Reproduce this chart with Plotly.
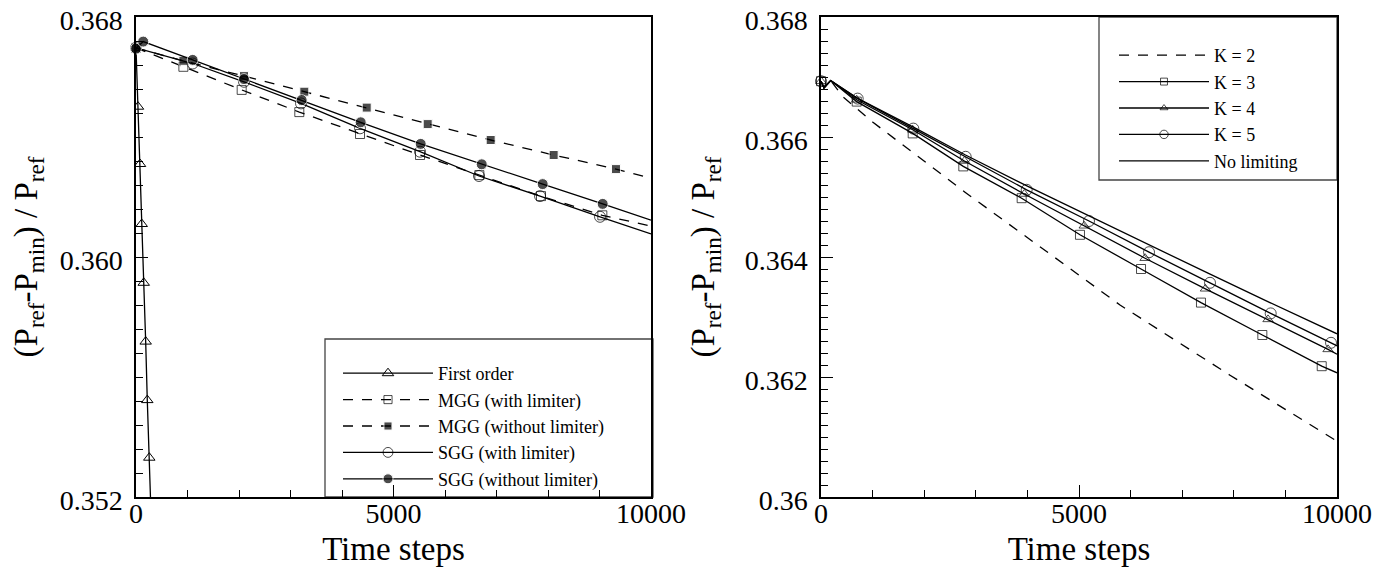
import plotly.graph_objects as go

# ---------------- Left panel data ----------------
first_t = [0, 39, 78, 111, 150, 188, 219, 258, 296]
first_v = [0.36697, 0.36501, 0.36310, 0.36110, 0.35914, 0.35718, 0.35523, 0.35331, 0.35120]

mgg_lim_t = [0, 920, 2052, 3171, 4350, 5515, 6667, 7864, 9055, 10000]
mgg_lim_v = [0.36697, 0.36634, 0.36557, 0.36483, 0.36410, 0.36340, 0.36273, 0.36203, 0.36139, 0.36103]

mgg_nolim_t = [0, 920, 2097, 3268, 4480, 5664, 6887, 8110, 9320, 10000]
mgg_nolim_v = [0.36697, 0.36654, 0.36603, 0.36551, 0.36498, 0.36443, 0.36390, 0.36340, 0.36293, 0.36263]

sgg_lim_t = [0, 1100, 2097, 3204, 4350, 5515, 6660, 7845, 9010, 10000]
sgg_lim_v = [0.36697, 0.36645, 0.36584, 0.36512, 0.36429, 0.36351, 0.36270, 0.36203, 0.36134, 0.36077]

sgg_nolim_t = [0, 140, 1100, 2097, 3217, 4363, 5528, 6713, 7897, 9062, 10000]
sgg_nolim_v = [0.36695, 0.36718, 0.36657, 0.36593, 0.36523, 0.36449, 0.36377, 0.36309, 0.36243, 0.36177, 0.36123]

left_names = ["First order", "MGG (with limiter)", "MGG (without limiter)",
              "SGG (with limiter)", "SGG (without limiter)"]

# ---------------- Right panel data ----------------
k2_t = [0, 58, 188, 427, 1000, 2791, 5795, 7926, 10000]
k2_v = [0.36693, 0.36682, 0.36694, 0.36667, 0.36625, 0.36508, 0.36320, 0.36203, 0.36093]

k3_t = [0, 58, 188, 692, 1777, 2758, 3889, 5019, 6202, 7364, 8553, 9704, 10000]
k3_v = [0.36693, 0.36682, 0.36694, 0.36659, 0.36606, 0.36551, 0.36498, 0.36437, 0.36380, 0.36324, 0.36270, 0.36218, 0.36207]

k4_t = [0, 58, 188, 692, 1777, 2780, 3940, 5100, 6280, 7450, 8663, 9826, 10000]
k4_v = [0.36693, 0.36682, 0.36694, 0.36662, 0.36612, 0.36560, 0.36505, 0.36452, 0.36398, 0.36347, 0.36296, 0.36246, 0.36238]

k5_t = [0, 58, 188, 711, 1789, 2804, 3986, 5194, 6357, 7539, 8715, 9884, 10000]
k5_v = [0.36693, 0.36682, 0.36694, 0.36664, 0.36614, 0.36567, 0.36512, 0.36460, 0.36408, 0.36357, 0.36306, 0.36257, 0.36252]

nolim_t = [0, 58, 188, 700, 1800, 2800, 4000, 5200, 6400, 7500, 8700, 10000]
nolim_v = [0.36693, 0.36682, 0.36694, 0.36665, 0.36616, 0.36570, 0.36518, 0.36468, 0.36418, 0.36373, 0.36324, 0.36272]

right_names = ["K = 2", "K = 3", "K = 4", "K = 5", "No limiting"]

left_yticks = [0.352, 0.360, 0.368]
left_yticktext = ["0.352", "0.360", "0.368"]
right_yticks = [0.360, 0.362, 0.364, 0.366, 0.368]
right_yticktext = ["0.36", "0.362", "0.364", "0.366", "0.368"]
xticks = [0, 5000, 10000]
xticktext = ["0", "5000", "10000"]

FONT = "Liberation Serif, Times New Roman, serif"
BLACK = "black"
DASH = "10px,9px"


def sizes(n, s, hide_last=True, hide_idx=()):
    out = [s] * n
    if hide_last:
        out[-1] = 0
    for i in hide_idx:
        out[i] = 0
    return out


fig = go.Figure()

# Left panel traces
fig.add_trace(go.Scatter(
    x=first_t, y=first_v, name=left_names[0], mode="lines+markers",
    line=dict(color=BLACK, width=1.3),
    marker=dict(symbol="triangle-up-open", size=10, color=BLACK, line=dict(width=1)),
    xaxis="x", yaxis="y", legend="legend"))
fig.add_trace(go.Scatter(
    x=mgg_lim_t, y=mgg_lim_v, name=left_names[1], mode="lines+markers",
    line=dict(color=BLACK, width=1.3, dash=DASH),
    marker=dict(symbol="square-open", size=sizes(len(mgg_lim_t), 9), color=BLACK, line=dict(width=1)),
    xaxis="x", yaxis="y", legend="legend", cliponaxis=False))
fig.add_trace(go.Scatter(
    x=mgg_nolim_t, y=mgg_nolim_v, name=left_names[2], mode="lines+markers",
    line=dict(color=BLACK, width=1.3, dash=DASH),
    marker=dict(symbol="square", size=sizes(len(mgg_nolim_t), 9), color=BLACK),
    xaxis="x", yaxis="y", legend="legend", cliponaxis=False))
fig.add_trace(go.Scatter(
    x=sgg_lim_t, y=sgg_lim_v, name=left_names[3], mode="lines+markers",
    line=dict(color=BLACK, width=1.3),
    marker=dict(symbol="circle-open", size=sizes(len(sgg_lim_t), 11), color=BLACK, line=dict(width=1)),
    xaxis="x", yaxis="y", legend="legend", cliponaxis=False))
fig.add_trace(go.Scatter(
    x=sgg_nolim_t, y=sgg_nolim_v, name=left_names[4], mode="lines+markers",
    line=dict(color=BLACK, width=1.3),
    marker=dict(symbol="circle", size=sizes(len(sgg_nolim_t), 11), color=BLACK),
    xaxis="x", yaxis="y", legend="legend", cliponaxis=False))

# Right panel traces
fig.add_trace(go.Scatter(
    x=k2_t, y=k2_v, name=right_names[0], mode="lines",
    line=dict(color=BLACK, width=1.3, dash=DASH),
    xaxis="x2", yaxis="y2", legend="legend2"))
fig.add_trace(go.Scatter(
    x=k3_t, y=k3_v, name=right_names[1], mode="lines+markers",
    line=dict(color=BLACK, width=1.3),
    marker=dict(symbol="square-open", size=sizes(len(k3_t), 9, hide_idx=(1, 2)), color=BLACK, line=dict(width=1)),
    xaxis="x2", yaxis="y2", legend="legend2", cliponaxis=False))
fig.add_trace(go.Scatter(
    x=k4_t, y=k4_v, name=right_names[2], mode="lines+markers",
    line=dict(color=BLACK, width=1.3),
    marker=dict(symbol="triangle-up-open", size=sizes(len(k4_t), 9, hide_idx=(1, 2)), color=BLACK, line=dict(width=1)),
    xaxis="x2", yaxis="y2", legend="legend2", cliponaxis=False))
fig.add_trace(go.Scatter(
    x=k5_t, y=k5_v, name=right_names[3], mode="lines+markers",
    line=dict(color=BLACK, width=1.3),
    marker=dict(symbol="circle-open", size=sizes(len(k5_t), 11, hide_idx=(1, 2)), color=BLACK, line=dict(width=1)),
    xaxis="x2", yaxis="y2", legend="legend2", cliponaxis=False))
fig.add_trace(go.Scatter(
    x=nolim_t, y=nolim_v, name=right_names[4], mode="lines",
    line=dict(color=BLACK, width=1.3),
    xaxis="x2", yaxis="y2", legend="legend2"))

# The page places the figure 8px from the window's top-left corner.
OFF = 8
WIN_W, WIN_H = 1389, 567
W, H = WIN_W - OFF, WIN_H - OFF
PLOT_L, PLOT_R, PLOT_T, PLOT_B = 136, 1337, 17, 497   # window pixel coords
ML = PLOT_L - OFF
MT = PLOT_T - OFF
MR = W - (PLOT_R - OFF)
MB = H - (PLOT_B - OFF)
PW = PLOT_R - PLOT_L
PH = PLOT_B - PLOT_T


def px(x):
    return (x - PLOT_L) / PW


def py(y):
    return (PLOT_B - y) / PH


axis_common = dict(
    showline=True, linecolor=BLACK, linewidth=1.5, mirror=True,
    ticks="inside", ticklen=12, tickwidth=1, tickcolor=BLACK,
    showgrid=False, zeroline=False,
    tickfont=dict(family=FONT, size=28, color=BLACK),
    ticklabeloverflow="allow",
    automargin=False,
)

ytitle = "(P<sub>ref</sub>-P<sub>min</sub>) / P<sub>ref</sub>"
TITLE_FONT = dict(family=FONT, size=33, color=BLACK)

fig.update_layout(
    width=W, height=H,
    margin=dict(l=ML, r=MR, t=MT, b=MB, pad=0),
    paper_bgcolor="white", plot_bgcolor="white",
    font=dict(family=FONT, color=BLACK),
    xaxis=dict(domain=[0, px(651)], range=[0, 10000], tickvals=xticks, ticktext=xticktext,
               minor=dict(dtick=1000, ticklen=7, ticks="inside", tickcolor=BLACK),
               title=dict(text="Time steps", font=TITLE_FONT, standoff=13),
               ticklabelstandoff=-9,
               anchor="y", **axis_common),
    yaxis=dict(domain=[0, 1], range=[0.352, 0.368], tickvals=left_yticks, ticktext=left_yticktext,
               minor=dict(dtick=0.0008, tick0=0.352, ticklen=7, ticks="inside", tickcolor=BLACK),
               title=dict(text=ytitle, font=TITLE_FONT, standoff=20),
               ticklabelstandoff=6, ticklabelshift=3,
               anchor="x", **axis_common),
    xaxis2=dict(domain=[px(821), 1], range=[0, 10000], tickvals=xticks, ticktext=xticktext,
                minor=dict(dtick=1000, ticklen=7, ticks="inside", tickcolor=BLACK),
                title=dict(text="Time steps", font=TITLE_FONT, standoff=13),
                ticklabelstandoff=-9,
                anchor="y2", **axis_common),
    yaxis2=dict(domain=[0, 1], range=[0.360, 0.368], tickvals=right_yticks, ticktext=right_yticktext,
                minor=dict(dtick=0.0002, tick0=0.36, ticklen=7, ticks="inside", tickcolor=BLACK),
                title=dict(text=ytitle, font=TITLE_FONT, standoff=20),
                ticklabelstandoff=6, ticklabelshift=3,
                anchor="x2", **axis_common),
    legend=dict(x=px(338), y=py(355), xanchor="left", yanchor="top",
                bgcolor="rgba(0,0,0,0)", borderwidth=0,
                font=dict(family=FONT, size=18, color=BLACK),
                itemwidth=90, tracegroupgap=0),
    legend2=dict(x=px(1114), y=py(37), xanchor="left", yanchor="top",
                 bgcolor="rgba(0,0,0,0)", borderwidth=0,
                 font=dict(family=FONT, size=18, color=BLACK),
                 itemwidth=90, tracegroupgap=0),
    shapes=[
        dict(type="rect", xref="paper", yref="paper",
             x0=px(325), x1=px(653), y0=py(497), y1=py(339),
             line=dict(color="#444", width=1.3), fillcolor="white", layer="below"),
        dict(type="rect", xref="paper", yref="paper",
             x0=px(1099), x1=px(1337), y0=py(180), y1=py(17),
             line=dict(color="#444", width=1.3), fillcolor="white", layer="below"),
    ],
    showlegend=True,
)

fig.write_html("out.html")
